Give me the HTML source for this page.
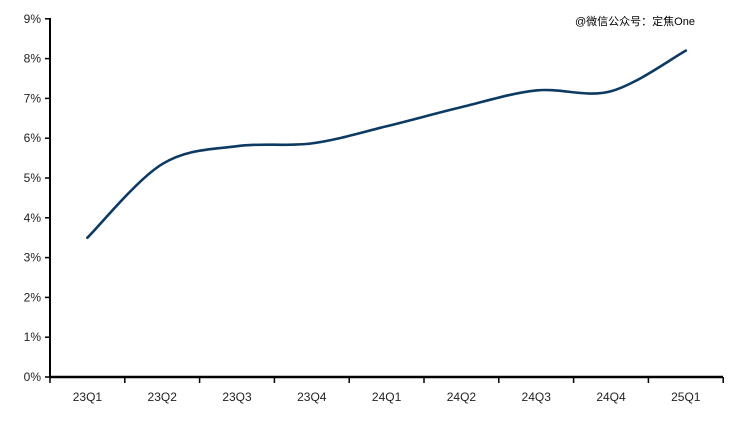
<!DOCTYPE html>
<html><head><meta charset="utf-8"><style>
html,body{margin:0;padding:0;background:#fff;width:747px;height:421px;overflow:hidden}
text{font-family:"Liberation Sans","Noto Sans CJK SC",sans-serif;font-size:12px;fill:#222}
</style></head><body>
<svg width="747" height="421" xmlns="http://www.w3.org/2000/svg">
<g id="g"></g>
<line x1="50" y1="18" x2="50" y2="378" stroke="#000" stroke-width="2"/>
<line x1="49" y1="377" x2="723" y2="377" stroke="#000" stroke-width="2.5"/>
<text x="575" y="25" style="font-size:11px;fill:#000">@微信公众号：定焦One</text>
<path id="p" fill="none" stroke="#0d3a63" stroke-width="2.6" stroke-linecap="round"/>
</svg>
<script>
var g=document.getElementById('g'),s='';
for(var i=0;i<=9;i++){var y=377-i*39.8;s+='<line x1="45" y1="'+y+'" x2="50" y2="'+y+'" stroke="#000" stroke-width="1.5"/>';
s+='<text x="41" y="'+(y+4)+'" text-anchor="end">'+i+'%</text>';}
var labs=['23Q1','23Q2','23Q3','23Q4','24Q1','24Q2','24Q3','24Q4','25Q1'];
for(var j=0;j<=9;j++){var x=50+j*74.8;s+='<line x1="'+x+'" y1="377" x2="'+x+'" y2="383" stroke="#000" stroke-width="1.5"/>';}
for(var j=0;j<9;j++){s+='<text x="'+(87.4+j*74.8)+'" y="401" text-anchor="middle">'+labs[j]+'</text>';}
g.innerHTML=s;
var v=[3.5,5.35,5.8,5.87,6.3,6.78,7.2,7.18,8.2],P=v.map(function(d,i){return[87.4+i*74.8,377-d*39.8]});
var d='M'+P[0][0]+','+P[0][1];
for(var i=0;i<P.length-1;i++){var p0=P[i-1]||P[i],p1=P[i],p2=P[i+1],p3=P[i+2]||P[i+1];
d+=' C'+(p1[0]+(p2[0]-p0[0])/6)+','+(p1[1]+(p2[1]-p0[1])/6)+' '+(p2[0]-(p3[0]-p1[0])/6)+','+(p2[1]-(p3[1]-p1[1])/6)+' '+p2[0]+','+p2[1];}
document.getElementById('p').setAttribute('d',d);
</script>
</body></html>
